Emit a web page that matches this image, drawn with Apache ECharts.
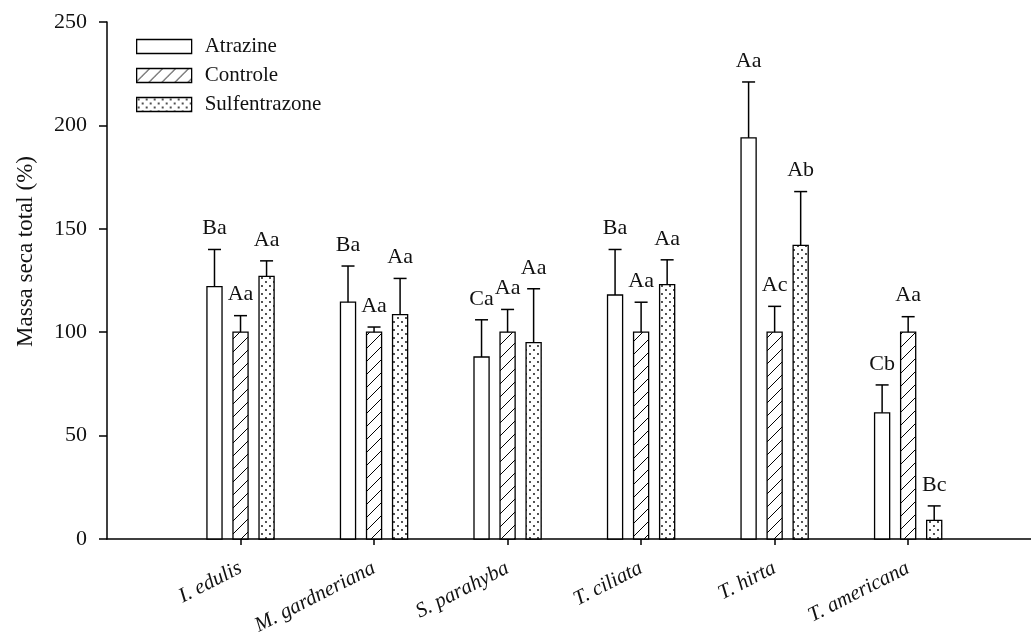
<!DOCTYPE html>
<html>
<head>
<meta charset="utf-8">
<title>Massa seca total</title>
<script src="https://cdn.jsdelivr.net/npm/echarts@6/dist/echarts.min.js"></script>
<style>
  html, body { margin: 0; padding: 0; background: #fff; }
  #chart { width: 1031px; height: 643px; }
</style>
</head>
<body>
<div id="chart"></div>
<script>
// Species on the x axis
const categories = ['I. edulis', 'M. gardneriana', 'S. parahyba', 'T. ciliata', 'T. hirta', 'T. americana'];

// Total dry mass (%) and standard error, one array per treatment
const atrazine         = [122, 114.5, 88, 118, 194, 61];
const atrazineErr      = [18, 17.5, 18, 22, 27, 13.5];
const controle         = [100, 100, 100, 100, 100, 100];
const controleErr      = [8, 2.5, 11, 14.5, 12.5, 7.5];
const sulfentrazone    = [127, 108.5, 95, 123, 142, 9];
const sulfentrazoneErr = [7.5, 17.5, 26, 12, 26, 7];

// Mean-separation letters above each bar
const atrazineLetters      = ['Ba', 'Ba', 'Ca', 'Ba', 'Aa', 'Cb'];
const controleLetters      = ['Aa', 'Aa', 'Aa', 'Aa', 'Ac', 'Aa'];
const sulfentrazoneLetters = ['Aa', 'Aa', 'Aa', 'Aa', 'Ab', 'Bc'];

// Y axis ticks
const yTicks = [0, 50, 100, 150, 200, 250];

const SERIF = '"Liberation Serif", "Times New Roman", serif';
const INK = '#111';

// Fill patterns: plain, diagonal hatch and dots
function hatchPattern() {
  const c = document.createElement('canvas');
  c.width = 13; c.height = 13;
  const g = c.getContext('2d');
  g.fillStyle = '#fff'; g.fillRect(0, 0, 13, 13);
  g.strokeStyle = '#000'; g.lineWidth = 1;
  g.beginPath();
  g.moveTo(-1, 14); g.lineTo(14, -1);
  g.stroke();
  return { image: c, repeat: 'repeat' };
}
function dotPattern() {
  const c = document.createElement('canvas');
  c.width = 8; c.height = 8;
  const g = c.getContext('2d');
  g.fillStyle = '#fff'; g.fillRect(0, 0, 8, 8);
  g.fillStyle = '#000';
  [[2, 2], [6, 6]].forEach(([x, y]) => {
    g.beginPath(); g.arc(x, y, 0.9, 0, Math.PI * 2); g.fill();
  });
  return { image: c, repeat: 'repeat' };
}

const fills = ['#fff', hatchPattern(), dotPattern()];
const letters = [atrazineLetters, controleLetters, sulfentrazoneLetters];
const offsets = [-0.195, 0, 0.195];   // bar offset within a species, in axis units
const BAR_W = 0.113;                  // bar width, in axis units

function toData(vals, errs) {
  return vals.map((v, i) => [i + 1, v, errs[i]]);
}

function makeRender(s) {
  return function (params, api) {
    const pos = api.value(0);
    const v = api.value(1);
    const e = api.value(2);
    const unit = api.size([1, 0])[0];
    const cx = api.coord([pos, 0])[0] + offsets[s] * unit;
    const y0 = api.coord([pos, 0])[1];
    const yTop = api.coord([pos, v])[1];
    const yErr = api.coord([pos, v + e])[1];
    const w = BAR_W * unit;
    return {
      type: 'group',
      children: [
        {
          type: 'rect',
          shape: { x: cx - w / 2, y: yTop, width: w, height: y0 - yTop },
          style: { fill: fills[s], stroke: '#000', lineWidth: 1.3 }
        },
        {
          type: 'line',
          shape: { x1: cx, y1: yTop, x2: cx, y2: yErr },
          style: { stroke: '#000', lineWidth: 1.5 }
        },
        {
          type: 'line',
          shape: { x1: cx - 6.5, y1: yErr, x2: cx + 6.5, y2: yErr },
          style: { stroke: '#000', lineWidth: 1.5 }
        },
        {
          type: 'text',
          style: {
            text: letters[s][params.dataIndex],
            x: cx, y: yErr - 10,
            align: 'center', verticalAlign: 'bottom',
            font: '22px ' + SERIF,
            fill: INK
          }
        }
      ]
    };
  };
}

const chart = echarts.init(document.getElementById('chart'), null, { renderer: 'canvas' });

const seriesNames = ['Atrazine', 'Controle', 'Sulfentrazone'];
const seriesData = [
  toData(atrazine, atrazineErr),
  toData(controle, controleErr),
  toData(sulfentrazone, sulfentrazoneErr)
];

chart.setOption({
  animation: false,
  backgroundColor: '#fff',
  grid: { left: 107, right: 0, top: 22, bottom: 104, containLabel: false },
  legend: {
    orient: 'vertical',
    left: 136,
    top: 36,
    padding: 0,
    itemWidth: 55,
    itemHeight: 14,
    itemGap: 8,
    icon: 'rect',
    selectedMode: false,
    textStyle: { fontFamily: SERIF, fontSize: 21, lineHeight: 21, color: INK, padding: [0, 0, 0, 8] },
    data: seriesNames.map((n, i) => ({
      name: n,
      itemStyle: { color: fills[i], borderColor: '#000', borderWidth: 1.3 }
    }))
  },
  xAxis: {
    type: 'value',
    min: 0,
    max: 6.92,
    interval: 1,
    splitLine: { show: false },
    axisLine: { lineStyle: { color: '#000', width: 1.5 } },
    axisTick: {
      show: true,
      customValues: [1, 2, 3, 4, 5, 6],
      length: 6,
      lineStyle: { color: '#000', width: 1.5 }
    },
    axisLabel: {
      customValues: [1, 2, 3, 4, 5, 6],
      formatter: v => categories[Math.round(v) - 1] || '',
      rotate: 27,
      margin: 28,
      fontFamily: SERIF,
      fontStyle: 'italic',
      fontSize: 21,
      color: INK
    }
  },
  yAxis: {
    type: 'value',
    min: yTicks[0],
    max: yTicks[yTicks.length - 1],
    interval: 50,
    splitLine: { show: false },
    axisLine: { show: true, lineStyle: { color: '#000', width: 1.5 } },
    axisTick: { show: true, length: 8, lineStyle: { color: '#000', width: 1.5 } },
    axisLabel: { margin: 20, fontFamily: SERIF, fontSize: 22, color: INK },
    name: 'Massa seca total (%)',
    nameLocation: 'middle',
    nameRotate: 90,
    nameGap: 70,
    nameTextStyle: { fontFamily: SERIF, fontSize: 23, color: INK, padding: [0, 0, 0, 58] }
  },
  series: seriesNames.map((n, i) => ({
    name: n,
    type: 'custom',
    renderItem: makeRender(i),
    itemStyle: { color: fills[i], borderColor: '#000', borderWidth: 1.3 },
    data: seriesData[i],
    encode: { x: 0, y: 1 },
    clip: false,
    z: 2
  }))
});
</script>
</body>
</html>
